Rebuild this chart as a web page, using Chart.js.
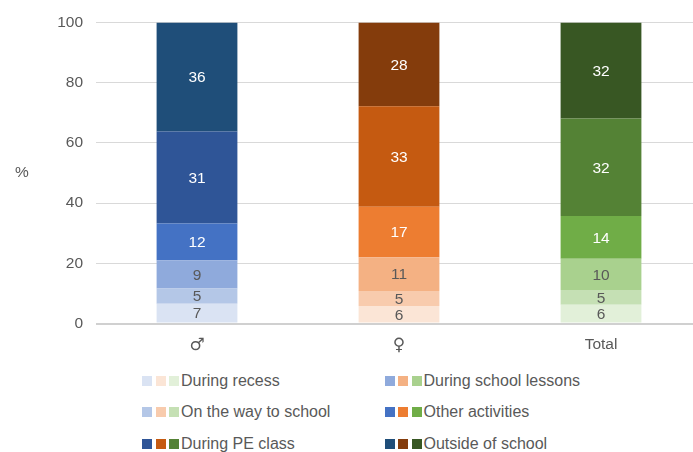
<!DOCTYPE html>
<html>
<head>
<meta charset="utf-8">
<script src="https://cdn.jsdelivr.net/npm/chart.js@4.4.1/dist/chart.umd.min.js"></script>
<style>
body { margin: 0; background: #fff; overflow: hidden; width: 693px; height: 452px; position: relative; font-family: "Liberation Sans", Arial, sans-serif; }
#wrap { position: absolute; left: 0; top: 0; width: 702px; height: 356px; }
#legend { position: absolute; left: 142px; top: 365px; display: grid; grid-template-columns: 242.5px auto; grid-auto-rows: 31.5px; color: #595959; font-size: 16px; }
.item { display: flex; align-items: center; white-space: nowrap; }
.sq { width: 10px; height: 10px; margin-right: 3.5px; }
.sq:nth-child(3) { margin-right: 2px; }
</style>
</head>
<body>
<div id="wrap"><canvas id="chart"></canvas></div>
<div id="legend"></div>
<script>
const categories = ['♂', '♀', 'Total'];
const yTicks = [0, 20, 40, 60, 80, 100];

// stacked from the bottom up
const seriesNames = ['During recess', 'On the way to school', 'During school lessons', 'Other activities', 'During PE class', 'Outside of school'];
const recess = [6.6, 5.8, 6.2];
const wayToSchool = [5.0, 5.0, 4.9];
const schoolLessons = [9.4, 11.2, 10.4];
const otherActivities = [12.2, 16.8, 14.2];
const peClass = [30.6, 33.4, 32.4];
const outsideSchool = [36.2, 27.8, 31.9];
const seriesValues = [recess, wayToSchool, schoolLessons, otherActivities, peClass, outsideSchool];

// legend reads row by row in two columns
const legendOrder = [0, 2, 1, 3, 4, 5];

// one palette per category, light to dark
const blues = ['#DAE3F3', '#B4C7E7', '#8FAADC', '#4472C4', '#2F5597', '#1F4E79'];
const oranges = ['#FBE5D6', '#F8CBAD', '#F4B183', '#ED7D31', '#C55A11', '#843C0C'];
const greens = ['#E2F0D9', '#C5E0B4', '#A9D18E', '#70AD47', '#548235', '#385723'];
const palettes = [blues, oranges, greens];

const FONT = '"Liberation Sans", Arial, sans-serif';
const GREY = '#595959';

const datasets = seriesNames.map((name, i) => ({
    label: name,
    data: seriesValues[i],
    backgroundColor: palettes.map(p => p[i]),
    borderWidth: 0,
    categoryPercentage: 1,
    barPercentage: 0.4
}));

// segment values and the "%" axis title
const segLabels = {
    id: 'segLabels',
    afterDatasetsDraw(chart) {
        const ctx = chart.ctx;
        ctx.save();
        ctx.font = '15.5px ' + FONT;
        ctx.textAlign = 'center';
        ctx.textBaseline = 'middle';
        chart.data.datasets.forEach((ds, i) => {
            chart.getDatasetMeta(i).data.forEach((bar, j) => {
                ctx.fillStyle = i < 3 ? GREY : '#ffffff';
                ctx.fillText(Math.round(ds.data[j]), bar.x, (bar.y + bar.base) / 2 + 1);
            });
        });
        const area = chart.chartArea;
        ctx.fillStyle = GREY;
        ctx.fillText('%', 22, (area.top + area.bottom) / 2);
        ctx.restore();
    }
};

new Chart(document.getElementById('chart'), {
    type: 'bar',
    data: { labels: categories, datasets },
    plugins: [segLabels],
    options: {
        responsive: true,
        maintainAspectRatio: false,
        animation: false,
        layout: { padding: { top: 22.5, right: 0, bottom: 0, left: 0 } },
        plugins: { legend: { display: false }, tooltip: { enabled: false } },
        scales: {
            x: {
                stacked: true,
                grid: { display: false },
                border: { display: false },
                ticks: {
                    color: GREY,
                    // the gender symbols need a bigger size to look like the original
                    font: ctx => ctx.index < 2
                        ? { size: 17, family: '"DejaVu Sans ExtraLight", "DejaVu Sans", sans-serif' }
                        : { size: 15.5, family: FONT },
                    padding: 4
                },
                afterFit: s => { s.height = 32.5; }
            },
            y: {
                stacked: true,
                min: yTicks[0],
                max: yTicks[yTicks.length - 1],
                afterBuildTicks: s => { s.ticks = yTicks.map(v => ({ value: v })); },
                grid: {
                    color: ctx => ctx.tick && ctx.tick.value === 0 ? '#d0d0d0' : '#d9d9d9',
                    lineWidth: ctx => ctx.tick && ctx.tick.value === 0 ? 2 : 1,
                    drawTicks: false
                },
                border: { display: false },
                ticks: { color: GREY, font: { size: 15.5, family: FONT }, padding: 13 },
                afterFit: s => { s.width = 96; }
            }
        }
    }
});

// legend: three squares (one per category) then the name
const legend = document.getElementById('legend');
legendOrder.forEach(i => {
    const item = document.createElement('div');
    item.className = 'item';
    palettes.forEach(p => {
        const sq = document.createElement('span');
        sq.className = 'sq';
        sq.style.background = p[i];
        item.appendChild(sq);
    });
    item.appendChild(document.createTextNode(seriesNames[i]));
    legend.appendChild(item);
});
</script>
</body>
</html>
